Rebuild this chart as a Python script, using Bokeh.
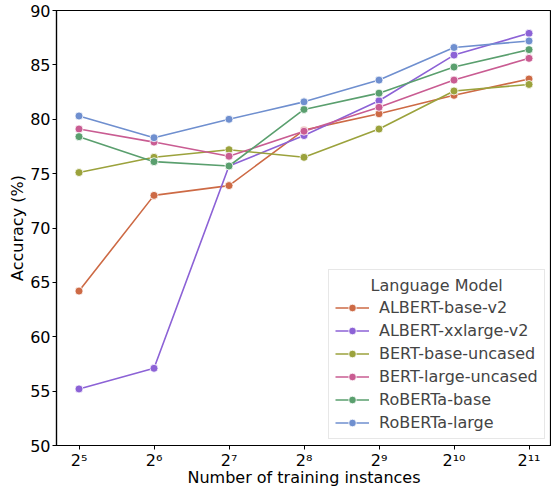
from bokeh.plotting import figure
from bokeh.models import Legend, LegendItem, FixedTicker, Range1d
from bokeh.embed import file_html
from bokeh.resources import INLINE

exponents = [5, 6, 7, 8, 9, 10, 11]
tick_labels = ["2⁵", "2⁶", "2⁷", "2⁸", "2⁹", "2¹⁰", "2¹¹"]

models = ["ALBERT-base-v2", "ALBERT-xxlarge-v2", "BERT-base-uncased",
          "BERT-large-uncased", "RoBERTa-base", "RoBERTa-large"]

albert_base_v2 = [64.2, 73.0, 73.9, 79.0, 80.5, 82.2, 83.7]
albert_xxlarge_v2 = [55.2, 57.1, 75.7, 78.5, 81.7, 85.9, 87.9]
bert_base_uncased = [75.1, 76.5, 77.2, 76.5, 79.1, 82.6, 83.2]
bert_large_uncased = [79.1, 77.9, 76.6, 78.9, 81.1, 83.6, 85.6]
roberta_base = [78.4, 76.1, 75.7, 80.9, 82.4, 84.8, 86.4]
roberta_large = [80.3, 78.3, 80.0, 81.6, 83.6, 86.6, 87.2]

series = [albert_base_v2, albert_xxlarge_v2, bert_base_uncased,
          bert_large_uncased, roberta_base, roberta_large]
colors = ["#cd6a45", "#8c62d6", "#9ba23c", "#c95c92", "#5a9f6e", "#6f8fcf"]

FONT = "DejaVu Sans"

p = figure(width=551, height=489, output_backend="svg", toolbar_location=None,
           x_range=Range1d(4.7, 11.3), y_range=Range1d(50, 90),
           min_border_left=56, min_border_right=0, min_border_top=10,
           min_border_bottom=44)
p.grid.visible = False
p.outline_line_color = "black"
p.outline_line_width = 1.2
p.background_fill_color = "white"
p.border_fill_color = "white"

items = []
for name, vals, col in zip(models, series, colors):
    r1 = p.line(exponents, vals, line_color=col, line_width=1.6)
    r2 = p.scatter(exponents, vals, size=8, fill_color=col, line_color="white",
                   line_width=0.8)
    items.append(LegendItem(label=name, renderers=[r1, r2]))

xa = p.xaxis[0]
xa.ticker = FixedTicker(ticks=exponents)
xa.major_label_overrides = {e: t for e, t in zip(exponents, tick_labels)}
xa.axis_label = "Number of training instances"
ya = p.yaxis[0]
ya.ticker = FixedTicker(ticks=[50, 55, 60, 65, 70, 75, 80, 85, 90])
ya.axis_label = "Accuracy (%)"

for ax in (xa, ya):
    ax.major_label_text_font = FONT
    ax.major_label_text_font_size = "16px"
    ax.major_label_text_color = "black"
    ax.axis_label_text_font = FONT
    ax.axis_label_text_font_size = "16px"
    ax.axis_label_text_font_style = "normal"
    ax.axis_label_text_color = "black"
    ax.axis_line_color = "black"
    ax.axis_line_width = 1.2
    ax.major_tick_line_color = "black"
    ax.major_tick_in = 0
    ax.major_tick_out = 4
    ax.minor_tick_line_color = None

xa.major_label_standoff = 1
xa.axis_label_standoff = -5
ya.major_label_standoff = 2
ya.axis_label_standoff = 0

legend = Legend(items=items, location=(272, 6))
legend.title = "       Language Model"
legend.title_text_font = FONT
legend.title_text_font_size = "16px"
legend.title_text_font_style = "normal"
legend.title_standoff = 3
legend.label_text_font = FONT
legend.label_text_font_size = "16px"
legend.label_height = 19
legend.glyph_height = 19
legend.glyph_width = 34
legend.label_standoff = 10
legend.spacing = 4
legend.padding = 6
legend.margin = 0
legend.border_line_color = "#d0d0d0"
legend.border_line_width = 1
legend.background_fill_alpha = 0.85
p.add_layout(legend, "center")

open("out.html", "w").write(file_html(p, INLINE))
